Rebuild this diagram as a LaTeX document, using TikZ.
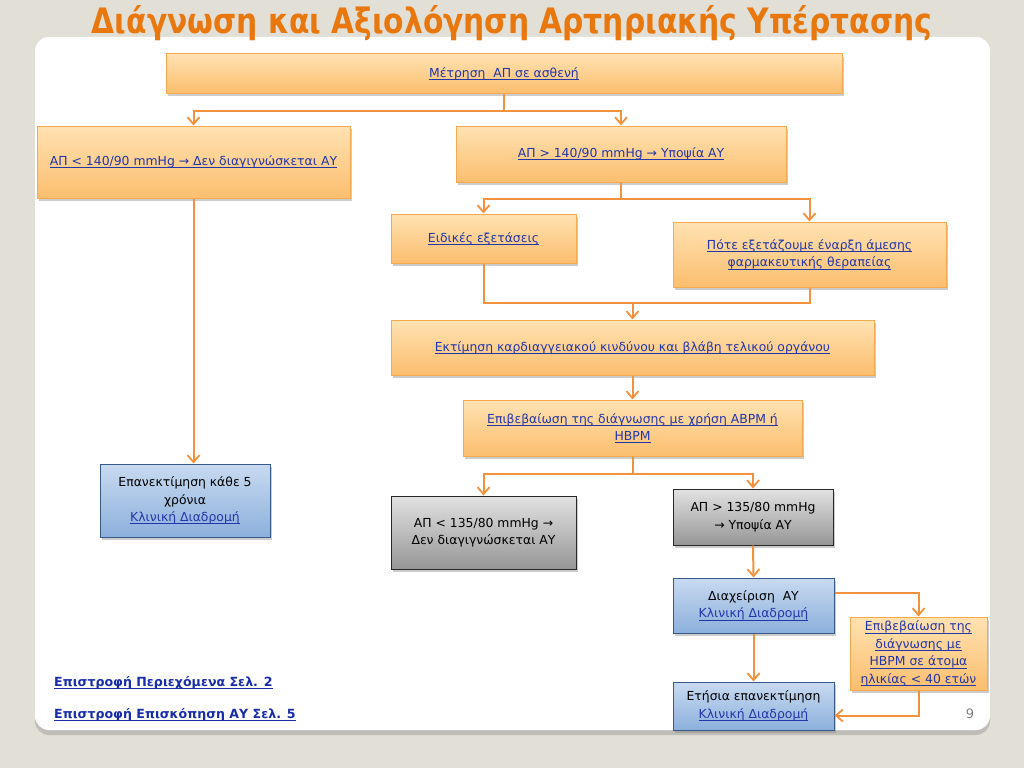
\documentclass[tikz,border=0pt]{standalone}
\usepackage{fontspec}
\setmainfont{DejaVu Sans}
\usetikzlibrary{arrows.meta,shadows,calc}
\definecolor{bgc}{RGB}{226,223,214}
\definecolor{titlec}{RGB}{232,120,14}
\definecolor{otop}{RGB}{255,226,178}
\definecolor{obot}{RGB}{251,190,110}
\definecolor{oborder}{RGB}{246,170,80}
\definecolor{btop}{RGB}{200,218,240}
\definecolor{bbot}{RGB}{140,176,220}
\definecolor{bborder}{RGB}{55,90,135}
\definecolor{gtop}{RGB}{226,226,226}
\definecolor{gbot}{RGB}{150,150,150}
\definecolor{gborder}{RGB}{40,40,40}
\definecolor{linkblue}{RGB}{35,55,170}
\definecolor{footblue}{RGB}{25,45,170}
\definecolor{connc}{RGB}{243,145,60}
\newcommand\lnk[1]{{\color{linkblue}\setbox0\hbox{#1}\rlap{\rule[-2.4pt]{\wd0}{0.7pt}}\box0}}
\tikzset{
  basebox/.style={line width=1pt, align=center, inner sep=2pt,
    font=\fontsize{12.4}{17.5}\selectfont,
    drop shadow={opacity=0.4,shadow xshift=2pt,shadow yshift=-3pt}},
  obox/.style={basebox, draw=oborder, top color=otop, bottom color=obot},
  bbox/.style={basebox, draw=bborder, top color=btop, bottom color=bbot},
  gbox/.style={basebox, draw=gborder, top color=gtop, bottom color=gbot},
  sz/.style 2 args={minimum width=#1pt, minimum height=#2pt},
  conn/.style={draw=connc, line width=2pt},
  arr/.style={conn, -{Straight Barb[length=7pt,width=12pt,line width=1.8pt]}},
  footlink/.style={anchor=base west, inner sep=0pt, font=\fontsize{12.6}{14}\selectfont\bfseries}
}
\begin{document}
\begin{tikzpicture}[x=1pt,y=-1pt]
\useasboundingbox (0,0) rectangle (1024,768);
\fill[bgc] (0,0) rectangle (1024,768);
% panel
\path[fill=white, rounded corners=14pt, drop shadow={opacity=0.35,shadow xshift=0pt,shadow yshift=-5pt}] (35,37) rectangle (990,730);
% title
\node[anchor=base, inner sep=0pt] (title) at (512,34) {\textcolor{titlec}{\resizebox{840pt}{28pt}{\bfseries Διάγνωση και Αξιολόγηση Αρτηριακής Υπέρτασης}}};
% boxes
\node[obox, sz={676}{39}] (m) at (504,73.5) {\lnk{Μέτρηση\ \ ΑΠ σε ασθενή}};
\node[obox, sz={313}{72}] (lo) at (193.5,162) {\lnk{ΑΠ < 140/90 mmHg → Δεν διαγιγνώσκεται ΑΥ}};
\node[obox, sz={330}{56}] (hi) at (621,154) {\lnk{ΑΠ > 140/90 mmHg → Υποψία ΑΥ}};
\node[obox, sz={185}{49}] (eid) at (483.5,238.5) {\lnk{Ειδικές εξετάσεις}};
\node[obox, sz={273}{65}] (pote) at (809.5,254.5) {\lnk{Πότε εξετάζουμε έναρξη άμεσης}\\\lnk{φαρμακευτικής θεραπείας}};
\node[obox, sz={483}{55}] (ekt) at (632.5,347.5) {\lnk{Εκτίμηση καρδιαγγειακού κινδύνου και βλάβη τελικού οργάνου}};
\node[obox, sz={339}{56}] (epi) at (632.5,428) {\lnk{Επιβεβαίωση της διάγνωσης με χρήση ABPM ή}\\\lnk{HBPM}};
\node[gbox, sz={185}{73}] (lo2) at (483.5,532.5) {ΑΠ < 135/80 mmHg →\\Δεν διαγιγνώσκεται ΑΥ};
\node[gbox, sz={160}{56}] (hi2) at (753,517) {ΑΠ > 135/80 mmHg\\→ Υποψία ΑΥ};
\node[bbox, sz={161}{55}] (diax) at (753.5,605.5) {Διαχείριση\ \ ΑΥ\\\lnk{Κλινική Διαδρομή}};
\node[bbox, sz={161}{48}] (etis) at (753.5,706) {Ετήσια επανεκτίμηση\\\lnk{Κλινική Διαδρομή}};
\node[obox, sz={137}{73}] (hbpm) at (918.5,653.5) {\lnk{Επιβεβαίωση της}\\\lnk{διάγνωσης με}\\\lnk{HBPM σε άτομα}\\\lnk{ηλικίας < 40 ετών}};
\node[bbox, sz={170}{73}] (epan) at (185,500.5) {Επανεκτίμηση κάθε 5\\χρόνια\\\lnk{Κλινική Διαδρομή}};
% connectors
\draw[arr] (m.south) -- ++(0,17) -| (lo.north);
\draw[arr] (m.south) -- ++(0,17) -| (hi.north);
\draw[arr] (hi.south) -- ++(0,16) -| (eid.north);
\draw[arr] (hi.south) -- ++(0,16) -| (pote.north);
\coordinate (j1) at (ekt.north |- 0,303);
\draw[conn] (eid.south) |- (j1) -| (pote.south);
\draw[arr] (j1) -- (ekt.north);
\draw[arr] (ekt.south) -- (epi.north);
\draw[arr] (epi.south) -- ++(0,17) -| (lo2.north);
\draw[arr] (epi.south) -- ++(0,17) -| (hi2.north);
\draw[arr] (hi2.south) -- (diax.north);
\draw[arr] (diax.south) -- (etis.north);
\draw[arr] ($(diax.north east)+(0,15)$) -| (hbpm.north);
\draw[arr] (hbpm.south) |- ($(etis.south east)+(0,-15)$);
\draw[arr] (lo.south) -- (lo.south |- epan.north);
% footer
\node[footlink] (f1) at (54,686) {\color{footblue}\setbox0\hbox{Επιστροφή Περιεχόμενα Σελ. 2}\rlap{\rule[-2.4pt]{\wd0}{0.9pt}}\box0};
\node[footlink] (f2) at (54,718) {\color{footblue}\setbox0\hbox{Επιστροφή Επισκόπηση ΑΥ Σελ. 5}\rlap{\rule[-2.4pt]{\wd0}{0.9pt}}\box0};
\node[anchor=base, inner sep=0pt, font=\fontsize{13}{13}\selectfont, text=gray] (pg) at (970,718) {9};
\end{tikzpicture}
\end{document}
